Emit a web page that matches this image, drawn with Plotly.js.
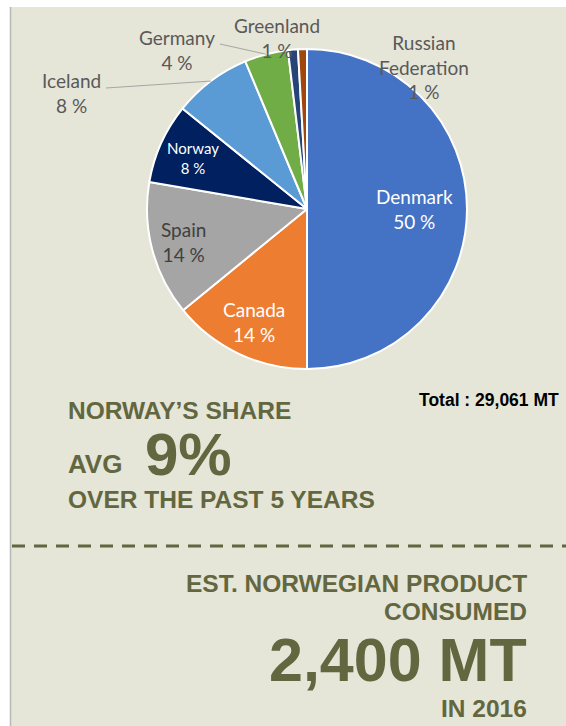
<!DOCTYPE html>
<html>
<head>
<meta charset="utf-8">
<script src="https://cdn.plot.ly/plotly-3.0.1.min.js"></script>
<style>html,body{margin:0;padding:0;background:#fff;}#chart{width:566px;height:726px;}</style>
</head>
<body>
<div id="chart"></div>
<script>
// ---- data ----
const countries = ['Denmark', 'Canada', 'Spain', 'Norway', 'Iceland', 'Germany', 'Greenland', 'Russian Federation'];
const shares = [50.0, 14.1, 13.6, 8.1, 7.9, 4.4, 1.0, 0.9];
const sliceColors = ['#4472C4', '#ED7D31', '#A5A5A5', '#002060', '#5B9BD5', '#70AD47', '#264478', '#9E480E'];
const totalText = 'Total : 29,061 MT';
const norwayAvg = '9%';
const consumedText = '2,400 MT';
const yearText = 'IN 2016';

// ---- layout helpers ----
const W = 566, H = 726;
const CX = 307, CY = 209, R = 160;
const px = x => x / W;
const py = y => 1 - y / H;
const total = shares.reduce((a, b) => a + b, 0);
const pctText = v => Math.round(v / total * 100) + ' %';
const olive = '#62673F';
const labelGrey = '#595959';
const pieFont = 'Lato, "Open Sans", sans-serif';
const boldFont = '"Liberation Sans", Arial, sans-serif';

function edgePoint(i, rr) {
  let before = 0;
  for (let k = 0; k < i; k++) before += shares[k];
  const frac = (before + shares[i] / 2) / total;
  const a = frac * 2 * Math.PI;
  return [CX + rr * Math.sin(a), CY - rr * Math.cos(a)];
}

const trace = {
  type: 'pie',
  labels: countries,
  values: shares,
  textinfo: 'none',
  sort: false,
  direction: 'clockwise',
  rotation: 0,
  marker: { colors: sliceColors, line: { color: '#ffffff', width: 2 } },
  hoverinfo: 'none',
  showlegend: false,
  domain: { x: [px(CX - R), px(CX + R)], y: [py(CY + R), py(CY - R)] }
};

const ice = edgePoint(4, R);
const ger = edgePoint(5, R);

const shapes = [
  { type: 'rect', xref: 'paper', yref: 'paper', x0: px(11), x1: 1, y0: 0, y1: py(7),
    fillcolor: '#E5E5D8', line: { width: 0 }, layer: 'below' },
  { type: 'line', xref: 'paper', yref: 'paper', x0: px(10.5), x1: px(10.5), y0: 0, y1: py(7),
    line: { color: '#B8B8B8', width: 1.5 }, layer: 'below' },
  { type: 'line', xref: 'paper', yref: 'paper', x0: px(106), y0: py(88), x1: px(ice[0]), y1: py(ice[1]),
    line: { color: '#A6A6A6', width: 1 } },
  { type: 'line', xref: 'paper', yref: 'paper', x0: px(220), y0: py(44), x1: px(ger[0]), y1: py(ger[1]),
    line: { color: '#A6A6A6', width: 1 } },
  { type: 'line', xref: 'paper', yref: 'paper', x0: px(12), x1: 1, y0: py(546), y1: py(546),
    line: { color: olive, width: 3, dash: '13px,9px' } }
];

function ann(text, x, y, size, opts) {
  return Object.assign({
    text: text, xref: 'paper', yref: 'paper', x: px(x), y: py(y),
    xanchor: 'center', yanchor: 'middle', showarrow: false,
    font: { family: pieFont, size: size, color: labelGrey }
  }, opts || {});
}

function bold(text, x, y, size, anchor, color) {
  return ann('<b>' + text + '</b>', x, y, size,
    { xanchor: anchor, font: { family: boldFont, size: size, color: color || olive } });
}

// labels inside the four largest slices, placed along each slice's middle angle
const insideRadius = [0.67, 0.78, 0.8, 0.78];
const insideColor = ['#ffffff', '#ffffff', '#404040', '#ffffff'];
const insideSize = [19, 19, 19, 15];
const insideAnns = insideRadius.map((f, i) => {
  const p = edgePoint(i, f * R);
  return ann(countries[i] + '<br>' + pctText(shares[i]), p[0], p[1], insideSize[i],
    { font: { family: pieFont, size: insideSize[i], color: insideColor[i] } });
});

const annotations = insideAnns.concat([
  ann(countries[4] + '<br>' + pctText(shares[4]), 71, 93, 19),
  ann(countries[5] + '<br>' + pctText(shares[5]), 177, 50, 19),
  ann(countries[6] + '<br>' + pctText(shares[6]), 277, 38, 19),
  ann('Russian<br>Federation<br>' + pctText(shares[7]), 424, 67, 19),
  bold(totalText, 561, 400, 17.5, 'right', '#000'),
  bold('NORWAY’S SHARE', 66, 410, 24.5, 'left'),
  bold('AVG', 66, 464, 26, 'left'),
  bold(norwayAvg, 143, 454, 60, 'left'),
  bold('OVER THE PAST 5 YEARS', 66, 499, 24.5, 'left'),
  bold('EST. NORWEGIAN PRODUCT', 529, 583, 24.5, 'right'),
  bold('CONSUMED', 529, 611.5, 24.5, 'right'),
  bold(consumedText, 529, 660.3, 61, 'right'),
  bold(yearText, 529, 708.5, 24.5, 'right')
]);

const layout = {
  width: W, height: H,
  margin: { l: 0, r: 0, t: 0, b: 0 },
  paper_bgcolor: '#ffffff',
  plot_bgcolor: 'rgba(0,0,0,0)',
  showlegend: false,
  shapes: shapes,
  annotations: annotations
};

Plotly.newPlot('chart', [trace], layout, { displayModeBar: false, staticPlot: true });
</script>
</body>
</html>
